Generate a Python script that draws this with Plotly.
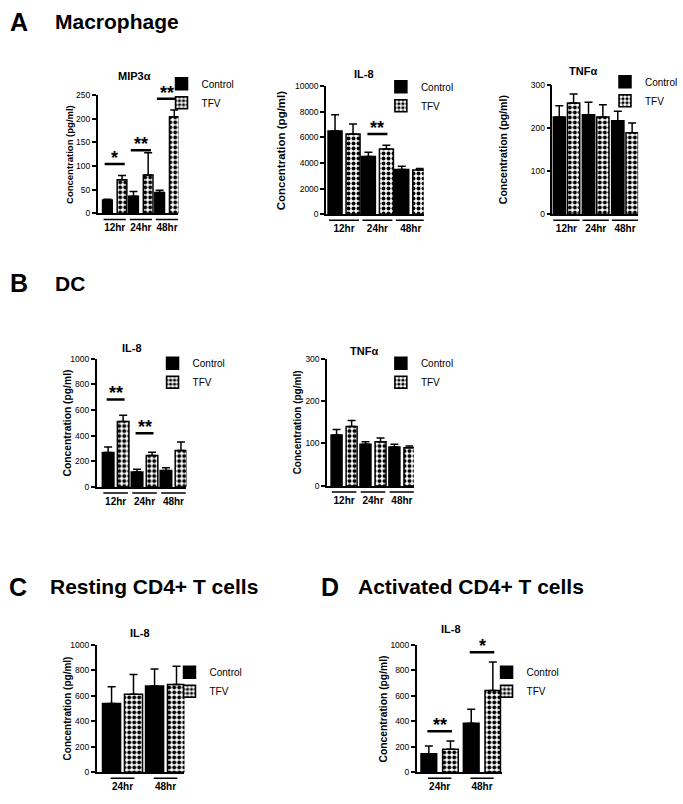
import plotly.graph_objects as go

FONT = "Liberation Sans, Arial, sans-serif"
W, H = 683, 804

times3 = ["12hr", "24hr", "48hr"]
times2 = ["24hr", "48hr"]
series_names = ["Control", "TFV"]

# ---- A: Macrophage ----
mac_mip3a_control = [28, 36, 44]
mac_mip3a_control_sem = [2, 10, 5]
mac_mip3a_tfv = [71, 81, 204]
mac_mip3a_tfv_sem = [9, 47, 14]
mac_mip3a_sig_cat = [0, 1, 2]
mac_mip3a_sig_y = [104, 133, 242]
mac_mip3a_sig_txt = ["*", "**", "**"]

mac_il8_control = [6500, 4500, 3500]
mac_il8_control_sem = [1250, 330, 250]
mac_il8_tfv = [6250, 5100, 3450]
mac_il8_tfv_sem = [780, 280, 130]
mac_il8_sig_cat = [1]
mac_il8_sig_y = [6250]
mac_il8_sig_txt = ["**"]

mac_tnfa_control = [226, 231, 217]
mac_tnfa_control_sem = [26, 29, 22]
mac_tnfa_tfv = [258, 226, 189]
mac_tnfa_tfv_sem = [21, 28, 23]

# ---- B: DC ----
dc_il8_control = [268, 116, 128]
dc_il8_control_sem = [44, 22, 22]
dc_il8_tfv = [510, 245, 283]
dc_il8_tfv_sem = [48, 25, 67]
dc_il8_sig_cat = [0, 1]
dc_il8_sig_y = [682, 418]
dc_il8_sig_txt = ["**", "**"]

dc_tnfa_control = [120, 98, 92]
dc_tnfa_control_sem = [13, 6, 6]
dc_tnfa_tfv = [140, 104, 90]
dc_tnfa_tfv_sem = [14, 9, 4]

# ---- C: Resting CD4+ T cells ----
rest_il8_control = [540, 677]
rest_il8_control_sem = [132, 134]
rest_il8_tfv = [612, 690]
rest_il8_tfv_sem = [155, 142]

# ---- D: Activated CD4+ T cells ----
act_il8_control = [145, 385]
act_il8_control_sem = [62, 111]
act_il8_tfv = [181, 643]
act_il8_tfv_sem = [64, 223]
act_il8_sig_cat = [0, 1]
act_il8_sig_y = [323, 943]
act_il8_sig_txt = ["**", "*"]

panels = [
    dict(title="MIP3α", cats=times3, ctrl=mac_mip3a_control, ctrl_sem=mac_mip3a_control_sem,
         tfv=mac_mip3a_tfv, tfv_sem=mac_mip3a_tfv_sem, ymax=250, dtick=50,
         sig=(mac_mip3a_sig_cat, mac_mip3a_sig_y, mac_mip3a_sig_txt), sigw=0.77,
         px=(98, 179), py=(91, 211), xr=(-0.65, 2.44), bw=0.37, gap=0.19, ul=0.85,
         txy=(135, 72), ytx=69, yts=9.5, leg=(197, 85)),
    dict(title="IL-8", cats=times3, ctrl=mac_il8_control, ctrl_sem=mac_il8_control_sem,
         tfv=mac_il8_tfv, tfv_sem=mac_il8_tfv_sem, ymax=10000, dtick=2000,
         sig=(mac_il8_sig_cat, mac_il8_sig_y, mac_il8_sig_txt), sigw=0.6,
         px=(327, 425), py=(82, 212), xr=(-0.54, 2.39), bw=0.42, gap=0.12, ul=0.9,
         txy=(365, 70), ytx=282, yts=11.5, leg=(417, 88)),
    dict(title="TNFα", cats=times3, ctrl=mac_tnfa_control, ctrl_sem=mac_tnfa_control_sem,
         tfv=mac_tnfa_tfv, tfv_sem=mac_tnfa_tfv_sem, ymax=300, dtick=100,
         sig=None, sigw=0.6,
         px=(554, 640), py=(81, 212), xr=(-0.48, 2.45), bw=0.42, gap=0.07, ul=0.9,
         txy=(585, 67), ytx=504, yts=10.5, leg=(642, 83)),
    dict(title="IL-8", cats=times3, ctrl=dc_il8_control, ctrl_sem=dc_il8_control_sem,
         tfv=dc_il8_tfv, tfv_sem=dc_il8_tfv_sem, ymax=1000, dtick=200,
         sig=(dc_il8_sig_cat, dc_il8_sig_y, dc_il8_sig_txt), sigw=0.62,
         px=(97, 187), py=(358, 488), xr=(-0.655, 2.45), bw=0.40, gap=0.12, ul=0.85,
         txy=(132, 347), ytx=68, yts=10.3, leg=(188, 368)),
    dict(title="TNFα", cats=times3, ctrl=dc_tnfa_control, ctrl_sem=dc_tnfa_control_sem,
         tfv=dc_tnfa_tfv, tfv_sem=dc_tnfa_tfv_sem, ymax=300, dtick=100,
         sig=None, sigw=0.6,
         px=(328, 415), py=(358, 487), xr=(-0.59, 2.41), bw=0.38, gap=0.14, ul=0.85,
         txy=(365, 350), ytx=298, yts=10, leg=(417, 368)),
    dict(title="IL-8", cats=times2, ctrl=rest_il8_control, ctrl_sem=rest_il8_control_sem,
         tfv=rest_il8_tfv, tfv_sem=rest_il8_tfv_sem, ymax=1000, dtick=200,
         sig=None, sigw=0.6,
         px=(97, 185), py=(648, 777), xr=(-0.6, 1.44), bw=0.42, gap=0.09, ul=0.55,
         txy=(140, 636), ytx=68, yts=10, leg=(205, 681)),
    dict(title="IL-8", cats=times2, ctrl=act_il8_control, ctrl_sem=act_il8_control_sem,
         tfv=act_il8_tfv, tfv_sem=act_il8_tfv_sem, ymax=1000, dtick=200,
         sig=(act_il8_sig_cat, act_il8_sig_y, act_il8_sig_txt), sigw=0.58,
         px=(418, 503), py=(648, 777), xr=(-0.54, 1.46), bw=0.37, gap=0.14, ul=0.55,
         txy=(452, 632), ytx=385, yts=10.3, leg=(523, 681)),
]

headers = [
    ("A", "Macrophage", 8, 53, 17),
    ("B", "DC", 8, 53, 282),
    ("C", "Resting CD4+ T cells", 7, 48, 589),
    ("D", "Activated CD4+ T cells", 320, 357, 589),
]

fig = go.Figure()
layout = dict(
    width=W, height=H, margin=dict(l=0, r=0, t=0, b=0),
    paper_bgcolor="white", plot_bgcolor="white",
    barmode="overlay", font=dict(family=FONT, color="black"),
)
annotations = []
shapes = []


def fx(p):
    return p / W


def fy(p):
    return 1 - p / H


for i, p in enumerate(panels, start=1):
    sfx = "" if i == 1 else str(i)
    xname, yname = "x" + sfx, "y" + sfx
    legname = "legend" + sfx
    n = len(p["cats"])
    bw, gap = p["bw"], p["gap"]
    err_style = dict(type="data", symmetric=False, arrayminus=[0] * n,
                     color="black", thickness=1.5, width=4)
    fig.add_trace(go.Bar(
        x=p["cats"], y=p["ctrl"], name=series_names[0], xaxis=xname, yaxis=yname,
        legend=legname, width=bw, offset=-(bw + gap / 2),
        marker=dict(color="black", line=dict(color="black", width=1.5)),
        error_y=dict(array=p["ctrl_sem"], **err_style)))
    fig.add_trace(go.Bar(
        x=p["cats"], y=p["tfv"], name=series_names[1], xaxis=xname, yaxis=yname,
        legend=legname, width=bw, offset=gap / 2,
        marker=dict(color="white", line=dict(color="black", width=1.5),
                    pattern=dict(shape=".", fgcolor="black", bgcolor="white",
                                 size=5, solidity=0.5, fillmode="replace")),
        error_y=dict(array=p["tfv_sem"], **err_style)))

    layout["xaxis" + sfx] = dict(
        domain=[fx(p["px"][0]), fx(p["px"][1])], anchor=yname,
        type="category", range=list(p["xr"]), showline=True, linecolor="black",
        linewidth=1.5, ticks="", showgrid=False, zeroline=False,
        tickfont=dict(size=10, weight="bold", color="black"),
        ticklabelstandoff=4, fixedrange=True)
    layout["yaxis" + sfx] = dict(
        domain=[fy(p["py"][1]), fy(p["py"][0])], anchor=xname,
        range=[0, p["ymax"]], dtick=p["dtick"], tickformat="d", showline=True,
        linecolor="black", linewidth=1.5, ticks="outside", ticklen=4, tickwidth=1.5,
        tickcolor="black", showgrid=False, zeroline=False,
        tickfont=dict(size=8.5, color="black"), fixedrange=True)
    layout[legname] = dict(
        x=fx(p["leg"][0] - 35), y=fy(p["leg"][1] - 20), xanchor="left", yanchor="top",
        font=dict(size=10, family=FONT, color="black"), bgcolor="rgba(0,0,0,0)",
        borderwidth=0, tracegroupgap=0)

    # chart title
    annotations.append(dict(
        text=p["title"], x=fx(p["txy"][0]), y=fy(p["txy"][1]), xref="paper", yref="paper",
        xanchor="center", yanchor="middle", showarrow=False,
        font=dict(size=11, weight="bold")))
    # y-axis title
    annotations.append(dict(
        text="Concentration (pg/ml)", x=fx(p["ytx"]), y=fy((p["py"][0] + p["py"][1]) / 2),
        xref="paper", yref="paper", xanchor="center", yanchor="middle",
        textangle=-90, showarrow=False, font=dict(size=p["yts"], weight="bold")))
    # category underlines
    for c in range(n):
        shapes.append(dict(
            type="line", xref=xname, yref=yname + " domain", ysizemode="pixel", yanchor=0,
            x0=c - p["ul"] / 2, x1=c + p["ul"] / 2, y0=-6, y1=-6,
            line=dict(color="black", width=1.5)))
    # significance bars
    if p["sig"]:
        for c, yv, t in zip(*p["sig"]):
            shapes.append(dict(
                type="line", xref=xname, yref=yname,
                x0=c - p["sigw"] / 2, x1=c + p["sigw"] / 2, y0=yv, y1=yv,
                line=dict(color="black", width=2.5)))
            annotations.append(dict(
                text=t, x=c, y=yv, xref=xname, yref=yname, xanchor="center",
                yanchor="bottom", yshift=-6, showarrow=False,
                font=dict(size=18, weight="bold")))

for letter, label, lx, tx, yc in headers:
    annotations.append(dict(text=letter, x=fx(lx), y=fy(yc), xref="paper", yref="paper",
                            xanchor="left", yanchor="middle", showarrow=False,
                            font=dict(size=25, weight="bold")))
    annotations.append(dict(text=label, x=fx(tx), y=fy(yc), xref="paper", yref="paper",
                            xanchor="left", yanchor="middle", showarrow=False,
                            font=dict(size=21, weight="bold")))

layout["annotations"] = annotations
layout["shapes"] = shapes
fig.update_layout(**layout)
fig.write_html("out.html", config={"displayModeBar": False},
               post_script="document.body.style.margin='0';document.body.style.padding='0';")
